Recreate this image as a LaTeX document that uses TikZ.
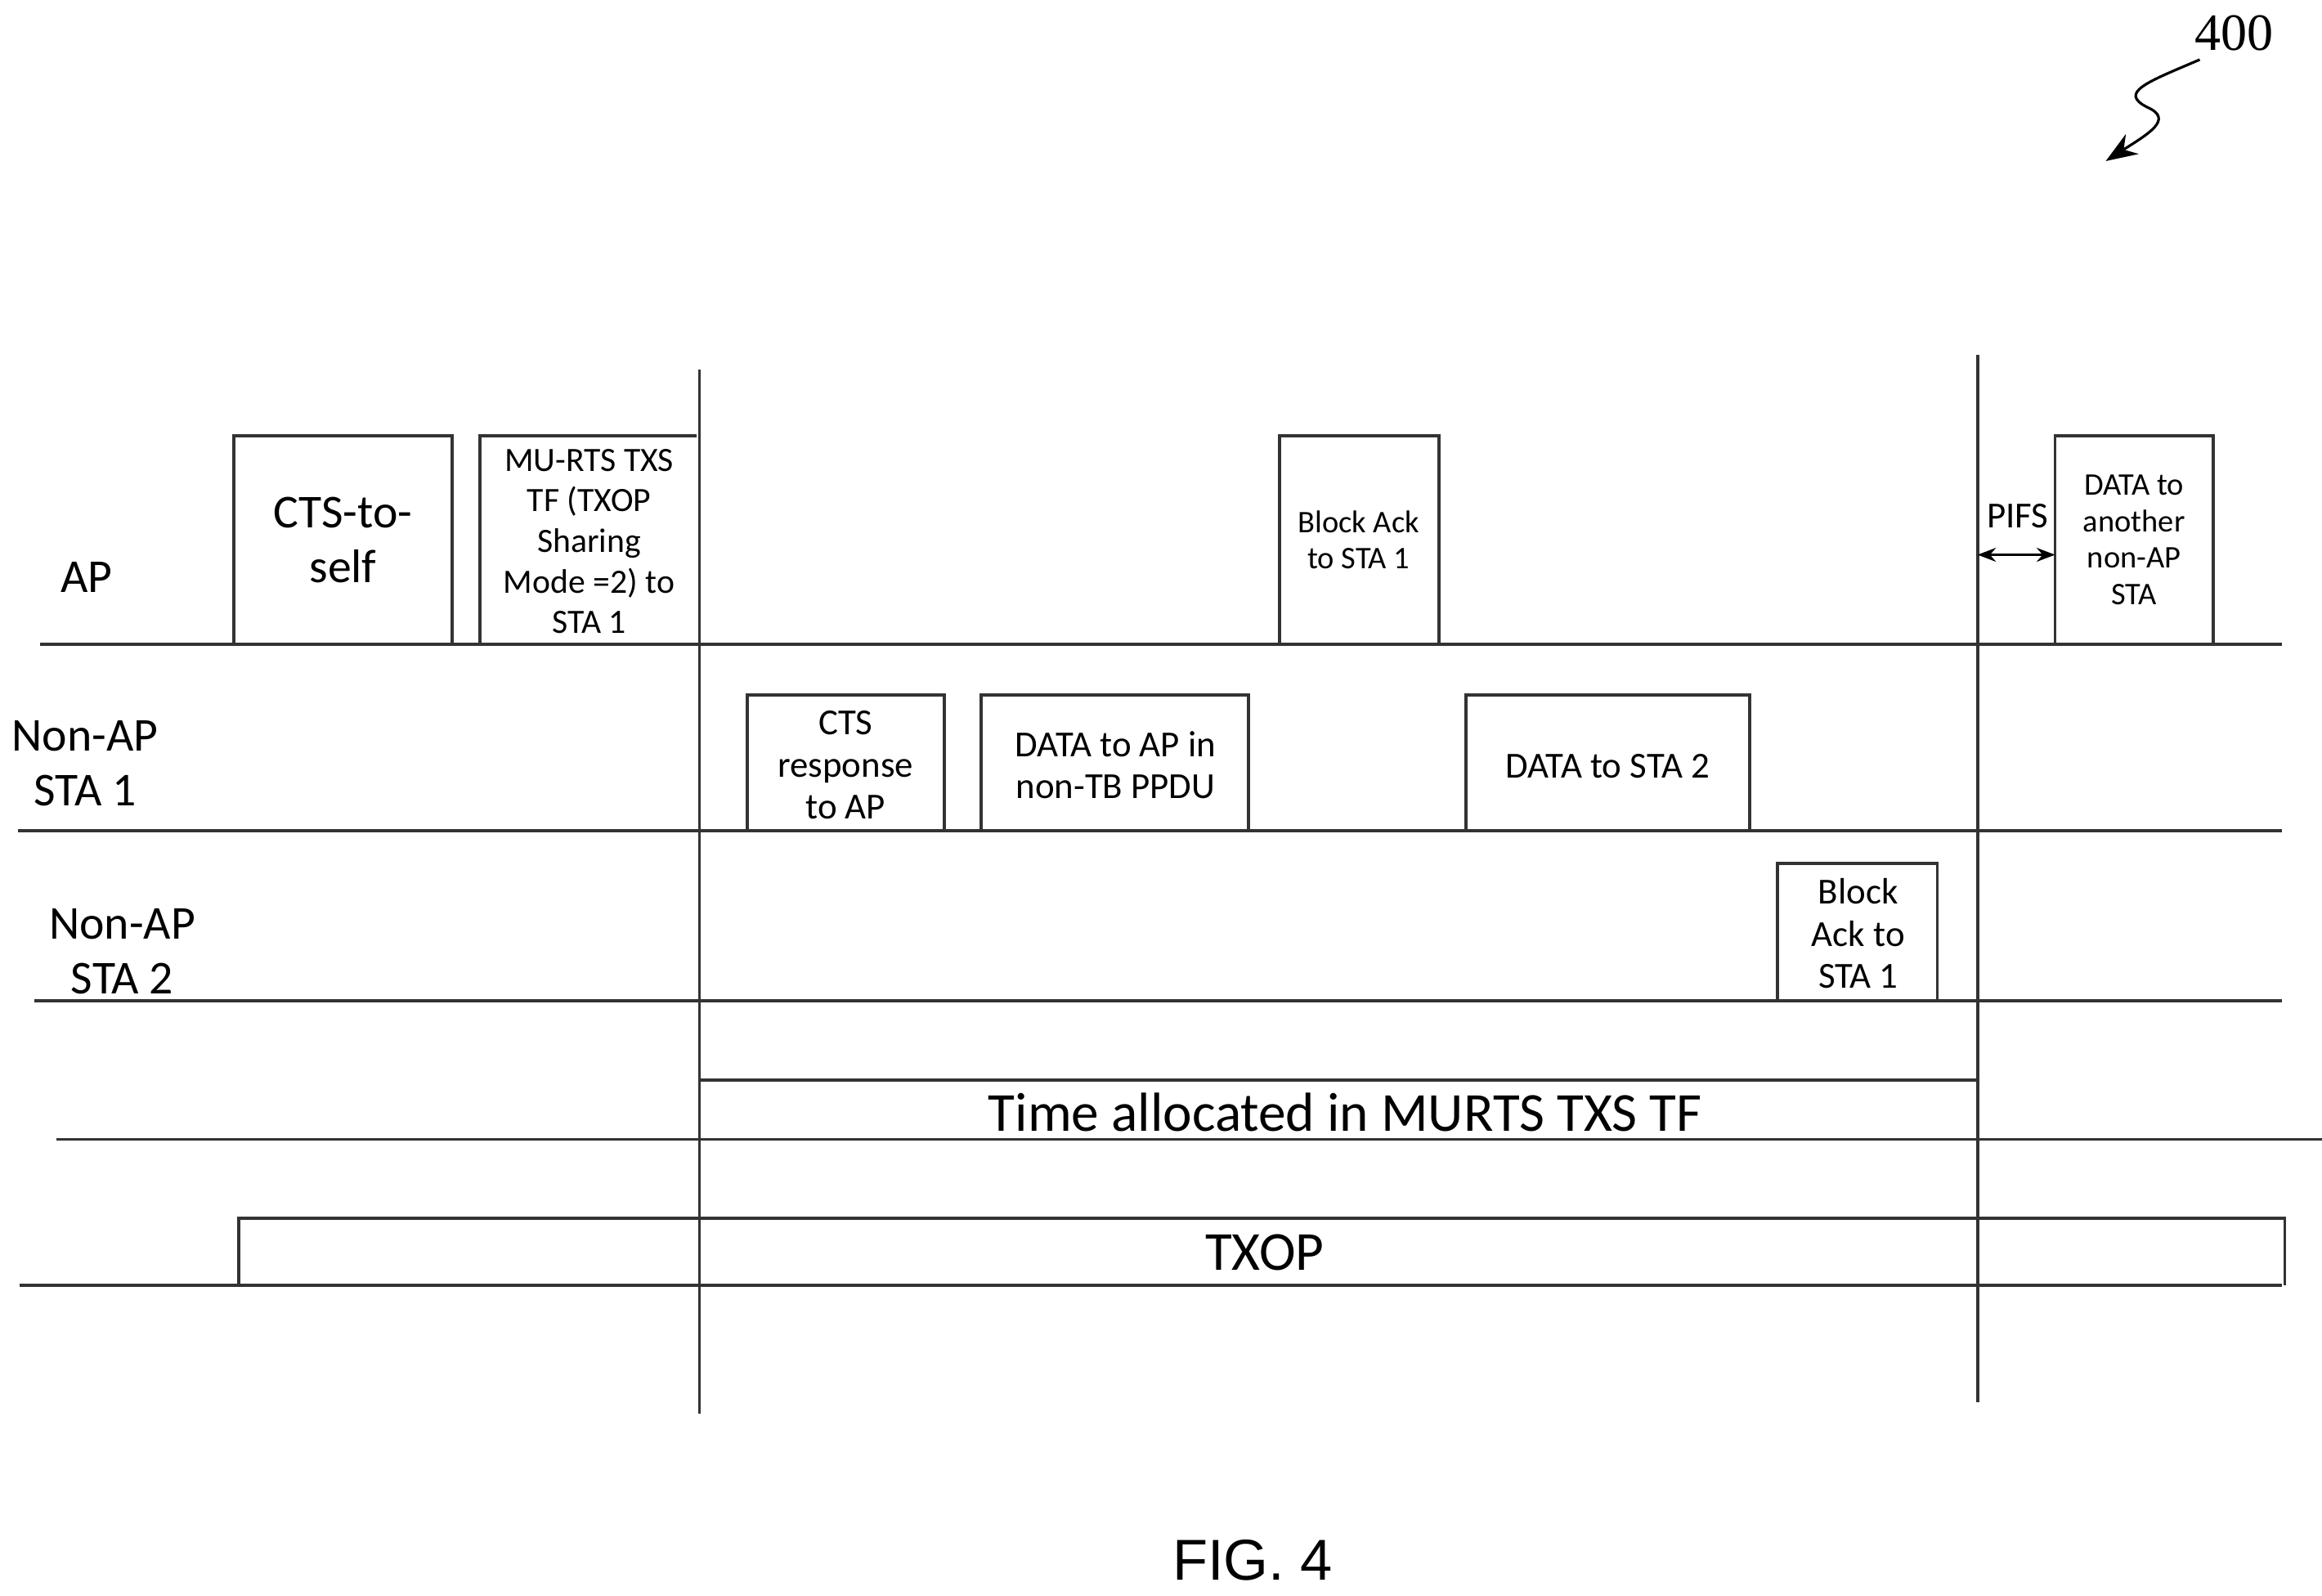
\documentclass[tikz,border=0pt]{standalone}
\usepackage{fontspec}
\setmainfont{Carlito}
\newfontfamily\figfont{Liberation Sans}
\newfontfamily\numfont{Liberation Serif}
\usetikzlibrary{arrows.meta}
\begin{document}
\begin{tikzpicture}[x=0.02cm,y=-0.02cm,
  ln/.style={line width=1.2pt,black!80},
  box/.style={draw,line width=1.2pt,black!80},
  big/.style={font=\fontsize{18}{21}\selectfont,align=center},
  huge/.style={font=\fontsize{21}{24}\selectfont,align=center},
  mid/.style={font=\fontsize{14}{16}\selectfont,align=center},
  sml/.style={font=\fontsize{12}{14}\selectfont,align=center}]
\useasboundingbox (0,0) rectangle (1557,1070);
% lines
\draw[ln] (469,248) -- (469,948);
\draw[ln] (1326,238) -- (1326,940);
\draw[ln] (27,432) -- (1530,432);
\draw[ln] (12,557) -- (1530,557);
\draw[ln] (23,671) -- (1530,671);
\draw[ln] (38,764) -- (1557,764);
\draw[ln] (13,862) -- (1530,862);
% AP boxes
\draw[box] (157,432) |- (303,292) -- (303,432);
\node[big] (cts) at (230,362) {CTS-to-\\self};
\draw[box] (322,432) |- (467,292);
\node[mid,font=\fontsize{13}{15.5}\selectfont] (murts) at (395,363) {MU-RTS TXS\\TF (TXOP\\Sharing\\Mode =2) to\\STA 1};
\draw[box] (858,432) |- (965,292) -- (965,432);
\node[sml] (ba1) at (911,362) {Block Ack\\to STA 1};
\draw[box] (1378,432) |- (1484,292) -- (1484,432);
\node[sml] (data3) at (1431,362) {DATA to\\another\\non-AP\\STA};
% STA1 boxes
\draw[box] (501,557) |- (633,466) -- (633,557);
\node[mid] (ctsr) at (567,513) {CTS\\response\\to AP};
\draw[box] (658,557) |- (837,466) -- (837,557);
\node[mid] (dap) at (748,513) {DATA to AP in\\non-TB PPDU};
\draw[box] (983,557) |- (1173,466) -- (1173,557);
\node[mid] (dsta2) at (1078,514) {DATA to STA 2};
% STA2 box
\draw[box] (1192,671) |- (1299,579) -- (1299,671);
\node[mid] (ba2) at (1246,626) {Block\\Ack to\\STA 1};
% time allocated
\draw[ln] (469,724) -- (1326,724);
\node[huge] (ta) at (902,746) {Time allocated in MURTS TXS TF};
% TXOP
\draw[box] (160,862) |- (1532,817) -- (1532,862);
\node[huge] (txop) at (848,840) {TXOP};
% PIFS
\coordinate (p1) at (1326,372); \coordinate (p2) at (1378,372);
\draw[line width=1.2pt,{Stealth[length=7pt]}-{Stealth[length=7pt]}] (p1) -- (p2);
\node[mid] (pifs) at (1353,346) {PIFS};
% labels
\node[big] (ap) at (58,387) {AP};
\node[big] (s1) at (57,512) {Non-AP\\STA 1};
\node[big] (s2) at (82,638) {Non-AP\\STA 2};
\node[font=\figfont\fontsize{22}{26}\selectfont] (fig) at (840,1046) {FIG. 4};
\node[font=\numfont\fontsize{20}{24}\selectfont] (num) at (1498,22) {400};
\coordinate (a0) at (1475,40);
\coordinate (a1) at (1412,108);
\draw[line width=1pt,-{Stealth[length=12pt,width=9pt]}] (a0) .. controls (1440,55) and (1420,62) .. (1440,72) .. controls (1458,80) and (1440,90) .. (a1);
\end{tikzpicture}
\end{document}
